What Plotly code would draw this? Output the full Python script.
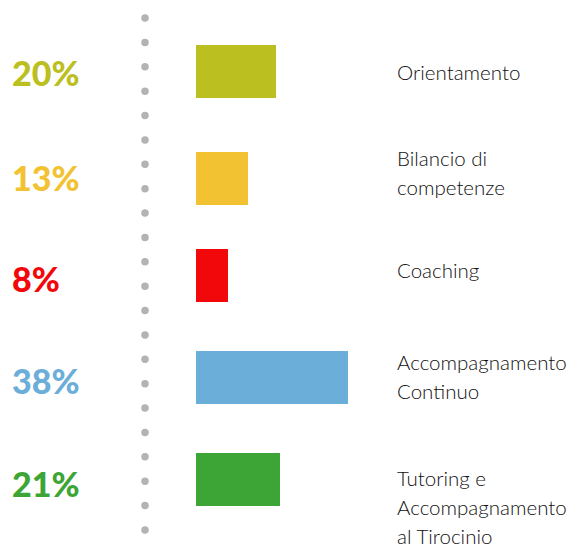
import numpy as np
import plotly.graph_objects as go

# ---- data ----
categories = ["Orientamento", "Bilancio di competenze", "Coaching",
              "Accompagnamento Continuo", "Tutoring e Accompagnamento al Tirocinio"]
label_lines = [["Orientamento"], ["Bilancio di", "competenze"], ["Coaching"],
               ["Accompagnamento", "Continuo"], ["Tutoring e", "Accompagnamento", "al Tirocinio"]]
values = [20, 13, 8, 38, 21]
colors = ["#BBBF20", "#F2C232", "#F2070B", "#6BAED9", "#3DA535"]

# ---- styling / layout helpers (page has an 8px body margin) ----
OFF = 8
W, H = 587 - OFF, 550 - OFF
px_per_unit = 4.0
x0_px = 196 - OFF
row_px = 101.9
first_row_px = 71.5 - OFF
xr = [-x0_px / px_per_unit, (W - x0_px) / px_per_unit]
yr = [(H - first_row_px) / row_px, -first_row_px / row_px]
ypos = list(range(len(categories)))

bar_w = 0.52
nudge = [0, 0.05, 0, 0, 0]  # small visual nudges along the row axis
fig = go.Figure()
fig.add_trace(go.Bar(
    x=values, y=ypos, orientation="h", base=0,
    marker=dict(color=colors, line=dict(width=0)),
    width=bar_w, offset=[-bar_w / 2 + d for d in nudge],
    hoverinfo="skip", showlegend=False,
))

# dotted separator
dot_x = (145 - OFF - x0_px) / px_per_unit
dot_y_px = np.arange(18 - OFF, 560 - OFF, 24.38)
dot_y = (dot_y_px - first_row_px) / row_px
fig.add_trace(go.Scatter(
    x=[dot_x] * len(dot_y), y=dot_y, mode="markers",
    marker=dict(size=7.5, color="#B3B3B3"), hoverinfo="skip", showlegend=False,
    cliponaxis=False,
))

annotations = []
pct_shift = [-1, -4, -3, -3, -4]
for i, (v, c) in enumerate(zip(values, colors)):
    annotations.append(dict(
        x=(10 - OFF) / W, xref="paper", y=i, yref="y", xanchor="left", yanchor="middle",
        text=f"{v}%", showarrow=False, yshift=pct_shift[i],
        font=dict(family="Lato", size=34, color=c, weight=900),
    ))

first_line_shift = [0, -15, -5, -15, -1]
for i, lines in enumerate(label_lines):
    for j, ln in enumerate(lines):
        annotations.append(dict(
            x=(395 - OFF) / W, xref="paper", y=i, yref="y", xanchor="left", yanchor="middle",
            text=ln, showarrow=False, yshift=-(first_line_shift[i] + 29 * j),
            font=dict(family="Lato", size=20.5, color="#111111", weight=300),
        ))

fig.update_layout(
    width=W, height=H,
    margin=dict(l=0, r=0, t=0, b=0),
    paper_bgcolor="white", plot_bgcolor="white",
    xaxis=dict(range=xr, visible=False, fixedrange=True),
    yaxis=dict(range=yr, visible=False, fixedrange=True),
    annotations=annotations,
    bargap=0,
)

fig.write_html("out.html")
